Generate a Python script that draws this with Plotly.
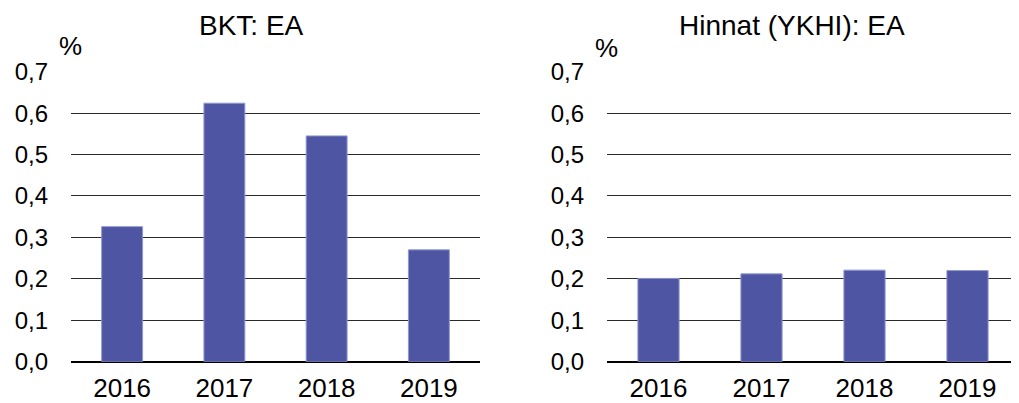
import plotly.graph_objects as go

years = ["2016", "2017", "2018", "2019"]
bkt_values = [0.326, 0.624, 0.545, 0.27]
prices_values = [0.201, 0.212, 0.221, 0.22]
titles = ["BKT: EA", "Hinnat (YKHI): EA"]
unit_label = "%"

# page body has an 8px margin; size the figure to fit the 1019x403 window
OFF = 8
W, H = 1019 - OFF, 403 - OFF
bar_color = "#4E55A2"
font_family = "Liberation Sans, Arial, sans-serif"


def px_x(x):
    return (x - OFF) / W


def px_y(y):
    return 1 - (y - OFF) / H


fig = go.Figure()
fig.add_trace(go.Bar(x=years, y=bkt_values, marker=dict(color=bar_color, line=dict(color="#9098D2", width=1)),
                     xaxis="x", yaxis="y", showlegend=False))
fig.add_trace(go.Bar(x=years, y=prices_values, marker=dict(color=bar_color, line=dict(color="#9098D2", width=1)),
                     xaxis="x2", yaxis="y2", showlegend=False))

ydom = [px_y(361.7), px_y(71.5)]
yax = dict(range=[0, 0.7005], tickvals=[0, 0.1, 0.2, 0.3, 0.4, 0.5, 0.6, 0.7], tickformat=".1f",
           showgrid=True, gridcolor="#2a2a2a", gridwidth=1,
           zeroline=True, zerolinecolor="#000000", zerolinewidth=2, showline=False, ticks="",
           ticklabelstandoff=22, tickfont=dict(size=24, color="#000000", family=font_family), domain=ydom,
           automargin=False, fixedrange=True)
xax = dict(showgrid=False, showline=False, zeroline=False, ticks="", ticklabelstandoff=8,
           automargin=False, tickfont=dict(size=26, color="#000000", family=font_family))

fig.update_layout(
    width=W, height=H,
    autosize=False,
    margin=dict(l=0, r=0, t=0, b=0, pad=0),
    paper_bgcolor="white", plot_bgcolor="white",
    separators=", ",
    bargap=0.6,
    font=dict(family=font_family, color="#000000"),
    xaxis=dict(domain=[px_x(71), px_x(480)], anchor="y", **xax),
    yaxis=dict(anchor="x", **yax),
    xaxis2=dict(domain=[px_x(607), 1.0], anchor="y2", **xax),
    yaxis2=dict(anchor="x2", **yax),
)

fig.add_annotation(text=titles[0], x=px_x(251), y=px_y(25.5), xref="paper", yref="paper",
                   showarrow=False, font=dict(size=28), xanchor="center", yanchor="middle")
fig.add_annotation(text=titles[1], x=px_x(792), y=px_y(25.5), xref="paper", yref="paper",
                   showarrow=False, font=dict(size=28), xanchor="center", yanchor="middle")
fig.add_annotation(text=unit_label, x=px_x(70.5), y=px_y(46), xref="paper", yref="paper",
                   showarrow=False, font=dict(size=26), xanchor="center", yanchor="middle")
fig.add_annotation(text=unit_label, x=px_x(606), y=px_y(48), xref="paper", yref="paper",
                   showarrow=False, font=dict(size=26), xanchor="center", yanchor="middle")

fig.write_html("out.html", config={"displayModeBar": False})
